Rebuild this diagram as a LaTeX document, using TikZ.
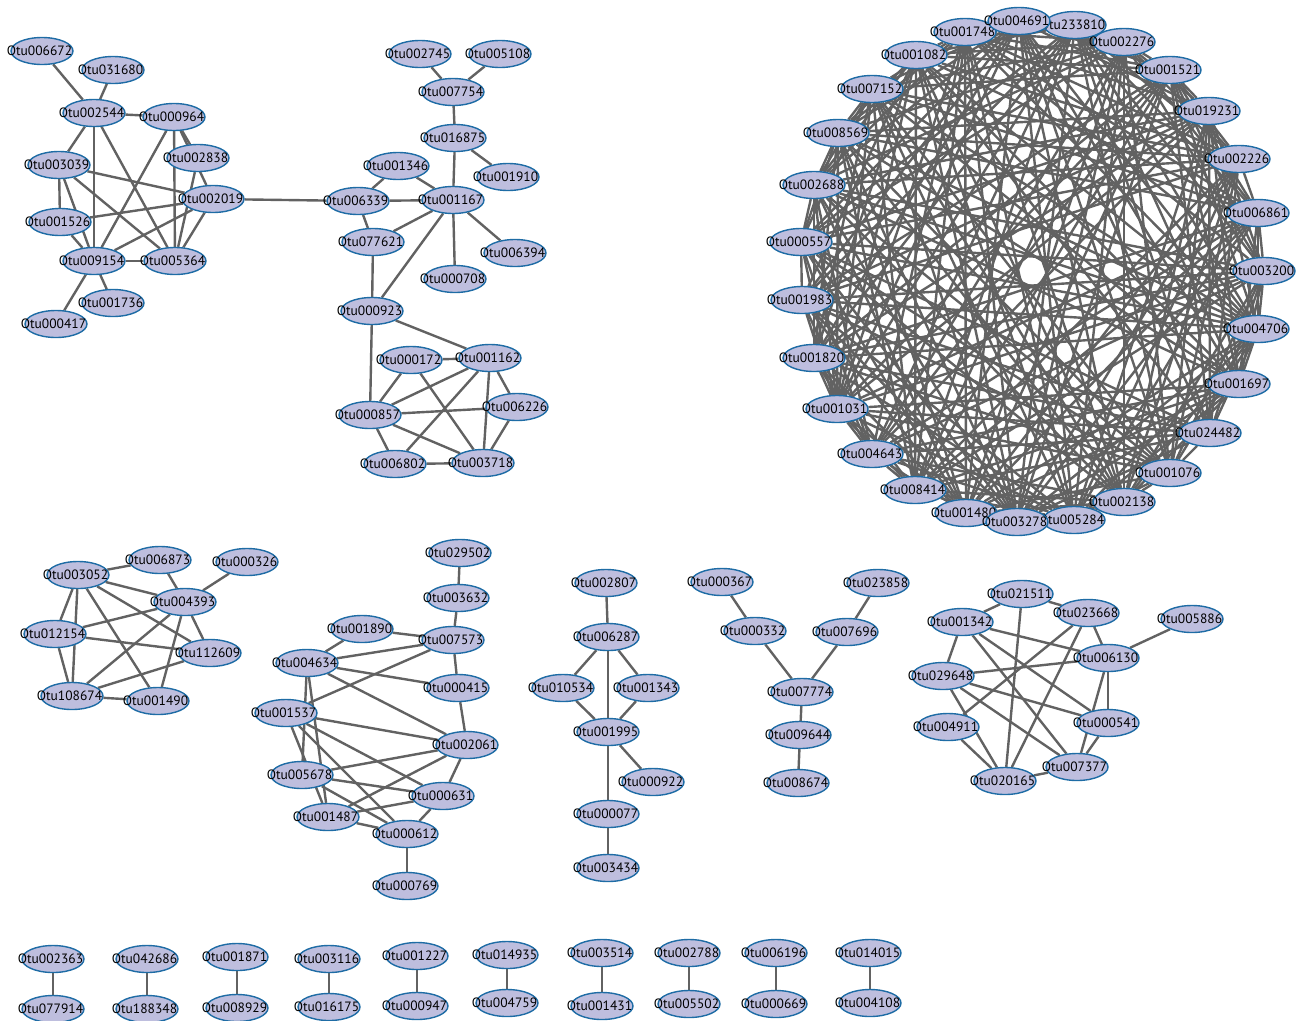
\documentclass[tikz,border=0pt]{standalone}
\usepackage{fontspec}
\setmainfont{PT Sans}
\usetikzlibrary{shapes.geometric}
\definecolor{otufill}{RGB}{190,190,222}
\definecolor{otuline}{RGB}{30,108,165}
\definecolor{linkgray}{RGB}{98,98,98}
\pgfdeclarelayer{bg}
\pgfsetlayers{bg,main}
\tikzset{
  otu/.style={ellipse, draw=otuline, fill=otufill, line width=1.4pt,
    minimum width=62pt, minimum height=27pt, inner sep=0pt,
    font=\fontsize{13.5}{14}\selectfont},
  link/.style={draw=linkgray, line width=2.4pt},
}
% label wider than its ellipse, a little left of centre
\newcommand{\otulbl}[1]{\makebox[0pt]{Otu#1\kern5pt}}

\begin{document}
\begin{tikzpicture}[x=1pt,y=-1pt]
  \useasboundingbox (0,0) rectangle (1305,1020);

  % small clusters
  \foreach \n/\x/\y in {006672/42/51, 031680/113/70, 002544/94/113, 000964/174/117,
      002838/198/158, 003039/59/165, 002019/213/199, 001526/60/222, 009154/94/261,
      005364/175/261, 001736/113/303, 000417/56/324,
      002745/420/54, 005108/500/54, 007754/453/92, 016875/455/138, 001346/398/166,
      001910/508/177, 006339/358/201, 001167/453/200, 077621/373/242, 006394/515/253,
      000708/455/279, 000923/372/311,
      000172/411/360, 001162/490/358, 000857/370/415, 006226/517/407,
      006802/395/464, 003718/483/463,
      003052/78/575, 006873/160/560, 000326/247/562, 004393/185/602, 012154/55/634,
      112609/210/653, 108674/72/696, 001490/158/701,
      029502/460/553, 003632/458/598, 001890/362/629, 007573/453/640, 004634/307/663,
      000415/458/688, 001537/286/713, 002061/467/745, 005678/302/775, 000631/443/796,
      001487/328/817, 000612/407/834, 000769/407/886,
      002807/606/583, 006287/608/637, 010534/563/688, 001343/648/688, 001995/608/732,
      000922/653/782, 000077/608/814, 003434/608/868,
      000367/722/582, 023858/878/583, 000332/755/631, 007696/847/632, 007774/802/692,
      009644/800/735, 008674/798/783,
      021511/1022/594, 023668/1088/613, 001342/962/622, 005886/1192/619,
      006130/1108/658, 029648/943/676, 000541/1108/723, 004911/948/727,
      007377/1077/767, 020165/1005/781}
    \node[otu] (o\n) at (\x,\y) {\otulbl{\n}};

  % pairs along the bottom
  \foreach \a/\b/\x/\ya/\yb in {002363/077914/53/959/1009, 042686/188348/147/959/1009,
      001871/008929/237/957/1008, 003116/016175/329/959/1007, 001227/000947/417/956/1006,
      014935/004759/507/955/1003, 003514/001431/602/953/1006, 002788/005502/689/953/1004,
      006196/000669/776/953/1004, 014015/004108/870/953/1003}
  {
    \node[otu] (o\a) at (\x,\ya) {\otulbl{\a}};
    \node[otu] (o\b) at (\x,\yb) {\otulbl{\b}};
    \begin{pgfonlayer}{bg}
      \draw[link] (o\a) -- (o\b);
    \end{pgfonlayer}
  }

  % the ring
  \foreach \n/\x/\y [count=\k from 0] in {001748/965/32, 233810/1075/25, 004691/1019/21,
      002276/1124/42, 001521/1170/70, 019231/1209/111, 002226/1239/159, 006861/1258/213,
      003200/1264/271, 004706/1258/329, 001697/1239/384, 024482/1210/433, 001076/1170/473,
      002138/1124/502, 005284/1074/520, 001480/966/513, 003278/1017/522, 008414/915/490,
      004643/872/454, 001031/837/409, 001820/814/358, 001983/802/300, 000557/801/242,
      002688/814/185, 008569/838/133, 007152/872/89, 001082/916/55}
    \node[otu] (c\k) at (\x,\y) {\otulbl{\n}};

  \begin{pgfonlayer}{bg}
    \foreach \a/\b in {006672/002544, 031680/002544, 002544/000964, 002544/003039,
        002544/009154, 002544/005364, 000964/009154, 000964/005364, 000964/002838,
        000964/002019, 002838/005364, 003039/002019, 003039/001526, 003039/009154,
        003039/005364, 001526/002019, 001526/009154, 009154/002019, 009154/005364,
        005364/002019, 009154/001736, 009154/000417, 002019/006339,
        002745/007754, 005108/007754, 007754/016875, 016875/001167, 016875/001910,
        001346/006339, 001346/001167, 006339/001167, 006339/077621, 001167/077621,
        001167/000923, 001167/006394, 001167/000708, 077621/000923,
        000923/001162, 000923/000857, 000172/001162, 000172/000857, 000172/003718,
        001162/000857, 001162/006802, 001162/003718, 001162/006226, 000857/006226,
        000857/006802, 000857/003718, 006802/003718, 006226/003718,
        003052/006873, 003052/004393, 003052/012154, 003052/108674, 003052/112609,
        003052/001490, 006873/004393, 000326/004393, 004393/012154, 004393/108674,
        004393/001490, 004393/112609, 012154/112609, 012154/108674, 108674/112609,
        108674/001490,
        029502/003632, 003632/007573, 001890/007573, 001890/004634, 004634/007573,
        004634/000415, 004634/002061, 004634/005678, 004634/001487, 001537/007573,
        001537/002061, 001537/000631, 001537/000612, 001537/001487, 005678/002061,
        005678/000631, 005678/000612, 001487/002061, 001487/000631, 001487/000612,
        000612/000631, 000631/002061, 002061/000415, 007573/000415, 000612/000769,
        002807/006287, 006287/010534, 006287/001995, 006287/001343, 010534/001995,
        001343/001995, 001995/000922, 001995/000077, 000077/003434,
        000367/000332, 023858/007696, 000332/007774, 007696/007774, 007774/009644,
        009644/008674,
        021511/001342, 021511/023668, 021511/020165, 001342/029648, 001342/006130,
        001342/000541, 001342/007377, 023668/006130, 023668/004911, 023668/020165,
        029648/006130, 029648/000541, 029648/007377, 029648/020165, 005886/006130,
        006130/000541, 006130/007377, 000541/007377, 004911/020165, 007377/020165}
      \draw[link] (o\a) -- (o\b);

    % ring links, most pairs joined
    \foreach \i in {0,...,25} {
      \pgfmathtruncatemacro\ii{\i+1}
      \foreach \j in {\ii,...,26} {
        \pgfmathtruncatemacro\k{mod(\i*7+\j*11,10)}
        \ifnum\k>2 \draw[link] (c\i) -- (c\j); \fi
      }
    }
  \end{pgfonlayer}
\end{tikzpicture}
\end{document}
